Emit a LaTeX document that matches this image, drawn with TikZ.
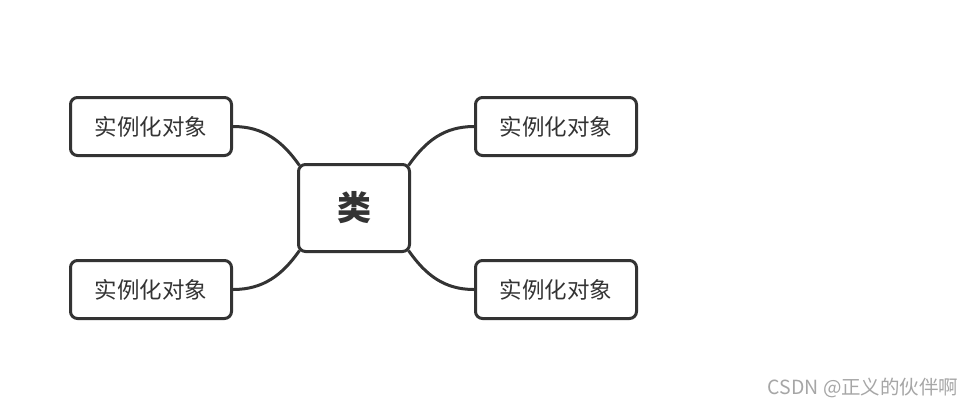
\documentclass[tikz,border=0pt]{standalone}
\usepackage{fontspec}
\newfontfamily\cjk{Noto Sans CJK SC}
\usetikzlibrary{positioning, calc}
\definecolor{ink}{HTML}{333333}
\definecolor{mark}{HTML}{A6A6A6}

\begin{document}
\begin{tikzpicture}[
    x=1pt, y=-1pt,
    leaf/.style={draw=ink, line width=3pt, rounded corners=7pt, fill=white,
        minimum width=161pt, minimum height=58pt, inner sep=0pt,
        font=\cjk\fontsize{22.5}{22.5}\selectfont, text=ink},
    root/.style={leaf, minimum width=111pt, minimum height=87pt,
        font=\cjk\fontsize{34}{34}\selectfont\bfseries},
    branch/.style={draw=ink, line width=3pt}
]
\useasboundingbox (0,0) rectangle (976,408);

\def\yUp{126.5}
\def\yDown{289.5}

\node[root] (cls) at (354,208) {类};

\node[leaf] (lt) at (151,\yUp)   {实例化对象};
\node[leaf] (lb) at (151,\yDown) {实例化对象};
\node[leaf] (rt) at (556,\yUp)   {实例化对象};
\node[leaf] (rb) at (556,\yDown) {实例化对象};

\draw[branch] (lt.east) to[out=0, in=125] ($(cls.north west)+(2.5,2.5)$);
\draw[branch] (lb.east) to[out=0, in=-125] ($(cls.south west)+(2.5,-2.5)$);
\draw[branch] (rt.west) to[out=180, in=55] ($(cls.north east)+(-2.5,2.5)$);
\draw[branch] (rb.west) to[out=180, in=-55] ($(cls.south east)+(-2.5,-2.5)$);

\node[anchor=east, text=mark, font=\cjk\fontsize{19.5}{19.5}\selectfont] (csdn) at (962,388) {CSDN @正义的伙伴啊};

\end{tikzpicture}
\end{document}
